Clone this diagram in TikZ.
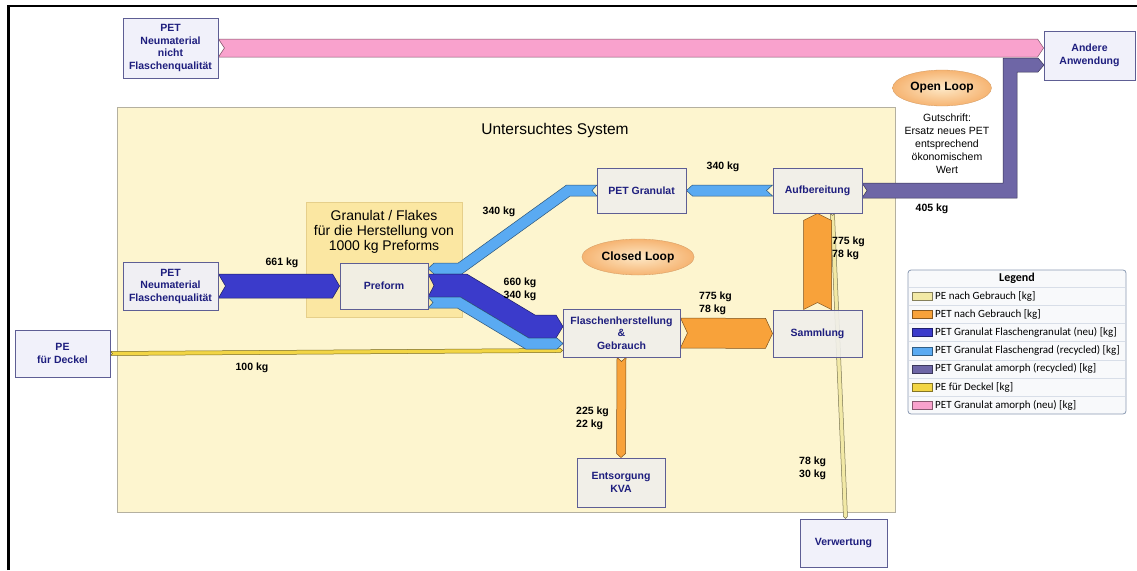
\documentclass[tikz,border=0pt]{standalone}
\usepackage{fontspec}
\setmainfont{Liberation Sans}
\newfontfamily\legendfont{Carlito}
\usetikzlibrary{calc, shapes.geometric}

% colours
\definecolor{sysfill}{HTML}{FDF5CF}
\definecolor{sysline}{HTML}{B4B0A0}
\definecolor{granfill}{HTML}{FBE7A2}
\definecolor{granline}{HTML}{E6CF8A}
\definecolor{boxline}{HTML}{5E5E94}
\definecolor{boxtext}{HTML}{1E1E7E}
\definecolor{outfill}{HTML}{EFEFF9}
\definecolor{infill}{HTML}{F0EFEC}
\definecolor{flowPink}{HTML}{F9A2CD}
\definecolor{flowDark}{HTML}{3B3BCB}
\definecolor{flowLight}{HTML}{5AAAF2}
\definecolor{flowPurple}{HTML}{6E66A6}
\definecolor{flowOrange}{HTML}{F8A23A}
\definecolor{flowYellow}{HTML}{F2D544}
\definecolor{flowPale}{HTML}{F2E9A6}
\definecolor{loopin}{HTML}{FDE8C6}
\definecolor{loopout}{HTML}{F6B472}
\definecolor{legfill}{HTML}{F8F9FB}
\definecolor{legline}{HTML}{8A9AB2}
\definecolor{legsep}{HTML}{D8DEE8}

\newcommand{\boxfont}{\fontsize{10.5}{12.5}\selectfont\bfseries}
\newcommand{\kgfont}{\fontsize{10.5}{13}\selectfont\bfseries}
\newcommand{\loopfont}{\fontsize{12}{14}\selectfont\bfseries}

\pgfdeclarelayer{under}
\pgfsetlayers{under,main}

% straight flow band: [tip length] from, to, half width, colour
\newcommand{\band}[5][6pt]{%
  \path (#2) coordinate (b-s) (#3) coordinate (b-e);
  \path ($(b-e)!#1!(b-s)$) coordinate (b-t);
  \filldraw[flow=#5] ($(b-s)!#4!90:(b-e)$) -- ($(b-t)!#4!-90:(b-s)$) -- (b-e)
    -- ($(b-t)!#4!90:(b-s)$) -- ($(b-s)!#4!-90:(b-e)$) -- ($(b-s)!#1!(b-e)$) -- cycle;
}

\begin{document}
\begin{tikzpicture}[x=1pt, y=-1pt,
  outbox/.style={draw=boxline, line width=0.9pt, fill=outfill, fill opacity=0.88,
    text opacity=1, text=boxtext, font=\boxfont, align=center, inner sep=1pt},
  inbox/.style={outbox, fill=infill},
  flow/.style={fill=#1, draw=#1!50!black, line width=0.5pt},
  kg/.style={font=\kgfont, align=left, inner sep=0pt},
  loop/.style={ellipse, minimum width=95pt, minimum height=36pt, draw=loopout!85!black,
    line width=0.3pt, inner color=loopin, outer color=loopout, font=\loopfont}]
\useasboundingbox (0,0) rectangle (1137,570);
\draw[line width=2.5pt] (8.7,570) -- (8.7,6) -- (1137,6);

% system and preform area
\begin{pgfonlayer}{under}
\node[draw=sysline, fill=sysfill, minimum width=778pt, minimum height=405pt] (sys) at (506,309.5) {};
\node[draw=granline, fill=granfill, minimum width=156pt, minimum height=115pt] (gran) at (384,259.5) {};
\end{pgfonlayer}
\node[font=\fontsize{15.5}{18}\selectfont] (systitle) at (555,130) {Untersuchtes System};
\node[align=center, font=\fontsize{14}{15}\selectfont] (grantxt) at (384,232)
  {Granulat / Flakes\\für die Herstellung von\\1000 kg Preforms};

% loops
\node[loop] (open) at (942,88) {Open Loop};
\node[loop] (closed) at (638,257) {Closed Loop};
\node[align=center, font=\fontsize{10.5}{13}\selectfont] (gut) at (947,144)
  {Gutschrift:\\Ersatz neues PET\\entsprechend\\ökonomischem\\Wert};

% boxes
\node[outbox, minimum width=95pt, minimum height=60pt] (nn) at (170.5,48) {PET\\Neumaterial\\nicht\\Flaschenqualität};
\node[outbox, minimum width=91pt, minimum height=49pt] (andere) at (1089.5,55.5) {Andere\\Anwendung};
\node[outbox, minimum width=95pt, minimum height=48pt] (nf) at (170.5,286) {PET\\Neumaterial\\Flaschenqualität};
\node[outbox, minimum width=95pt, minimum height=47pt] (pe) at (62.5,353.5) {PE\\für Deckel};
\node[inbox, minimum width=88pt, minimum height=46pt] (pre) at (384,286) {Preform};
\node[inbox, minimum width=89pt, minimum height=45pt] (pgran) at (641.5,190.5) {PET Granulat};
\node[inbox, minimum width=89pt, minimum height=45pt] (aufb) at (817.5,190.5) {Aufbereitung};
\node[inbox, minimum width=117pt, minimum height=48pt] (flasch) at (621.5,333) {Flaschenherstellung\\\&\\Gebrauch};
\node[inbox, minimum width=89pt, minimum height=47pt] (samm) at (817.5,333.5) {Sammlung};
\node[inbox, minimum width=88pt, minimum height=49pt] (ents) at (621,482.5) {Entsorgung\\KVA};
\node[outbox, minimum width=87pt, minimum height=48pt] (verw) at (843.5,543) {Verwertung};

% flows
\coordinate (pkend) at (andere.west |- nn.east);
\coordinate (deckin) at ($(flasch.south west)+(0,-7)$);
\coordinate (aufbout) at ($(aufb.south east)+(-30,0)$);
\coordinate (verwin) at ($(verw.north west)+(46,0)$);
\begin{pgfonlayer}{under}
\band[2pt]{aufbout}{verwin}{2pt}{flowPale}
\band{nn.east}{pkend}{9pt}{flowPink}
\band[7pt]{nf.east}{pre.west}{12pt}{flowDark}
\band{aufb.west}{pgran.east}{5.5pt}{flowLight}
\band[7pt]{flasch.east}{samm.west}{15pt}{flowOrange}
\band[7pt]{samm.north}{aufb.south}{14pt}{flowOrange}
\band[4pt]{flasch.south}{ents.north}{4.5pt}{flowOrange}
\band[2pt]{pe.east}{deckin}{2pt}{flowYellow}
% bent flows
\filldraw[flow=flowLight] (597,185) -- (566.5,185) -- (458.2,263) -- (434,263) -- (428,268.5)
  -- (434,274) -- (461.8,274) -- (570.1,196) -- (597,196) -- (592,190.5) -- cycle;
\filldraw[flow=flowDark] (428,274) -- (466.7,274) -- (535,315) -- (556,315) -- (563,326.5)
  -- (556,338) -- (528.7,338) -- (460.3,297) -- (428,297) -- (434,285.5) -- cycle;
\filldraw[flow=flowLight] (428,297) -- (460.3,297) -- (528.7,338) -- (557,338) -- (563,343.5)
  -- (557,349) -- (525.6,349) -- (457.3,308) -- (428,308) -- (433,302.5) -- cycle;
\filldraw[flow=flowPurple] (862,183) -- (1003,183) -- (1003,58) -- (1038,58) -- (1044,65)
  -- (1038,72) -- (1017,72) -- (1017,198) -- (862,198) -- (867,190.5) -- cycle;
\end{pgfonlayer}

% amounts
\node[kg] (k661) at (282,263) {661 kg};
\node[kg] (k340a) at (499,212) {340 kg};
\node[kg] (k660) at (520,289) {660 kg\\340 kg};
\node[kg] (k340b) at (723,167) {340 kg};
\node[kg, anchor=west] (k775a) at (699,303) {775 kg\\78 kg};
\node[kg, anchor=west] (k775b) at (832,248.5) {775 kg\\78 kg};
\node[kg, anchor=west] (k225) at (576,418) {225 kg\\22 kg};
\node[kg, anchor=west] (k78) at (799,468) {78 kg\\30 kg};
\node[kg] (k100) at (252,368) {100 kg};
\node[kg] (k405) at (932,209) {405 kg};

% legend
\node[draw=legline, fill=legfill, rounded corners=3pt, line width=0.8pt,
  minimum width=218pt, minimum height=144pt] (legend) at (1017,342) {};
\node[font=\legendfont\fontsize{12}{14}\selectfont\bfseries] (legtitle) at (1017,278) {Legend};
\foreach \c/\t [count=\i] in {flowPale/PE nach Gebrauch [kg], flowOrange/PET nach Gebrauch [kg],
    flowDark/PET Granulat Flaschengranulat (neu) [kg], flowLight/PET Granulat Flaschengrad (recycled) [kg],
    flowPurple/PET Granulat amorph (recycled) [kg], flowYellow/PE für Deckel [kg],
    flowPink/PET Granulat amorph (neu) [kg]} {
  \draw[legsep, line width=0.6pt] (909,{287+18.2*(\i-1)}) -- (1125,{287+18.2*(\i-1)});
  \node[draw=\c!55!black, fill=\c, minimum width=20pt, minimum height=8pt, inner sep=0pt]
    (sw\i) at (922,{296.1+18.2*(\i-1)}) {};
  \node[anchor=west, inner sep=0pt, font=\legendfont\fontsize{11}{13}\selectfont]
    (lt\i) at (935,{296.1+18.2*(\i-1)}) {\t};
}
\end{tikzpicture}
\end{document}
